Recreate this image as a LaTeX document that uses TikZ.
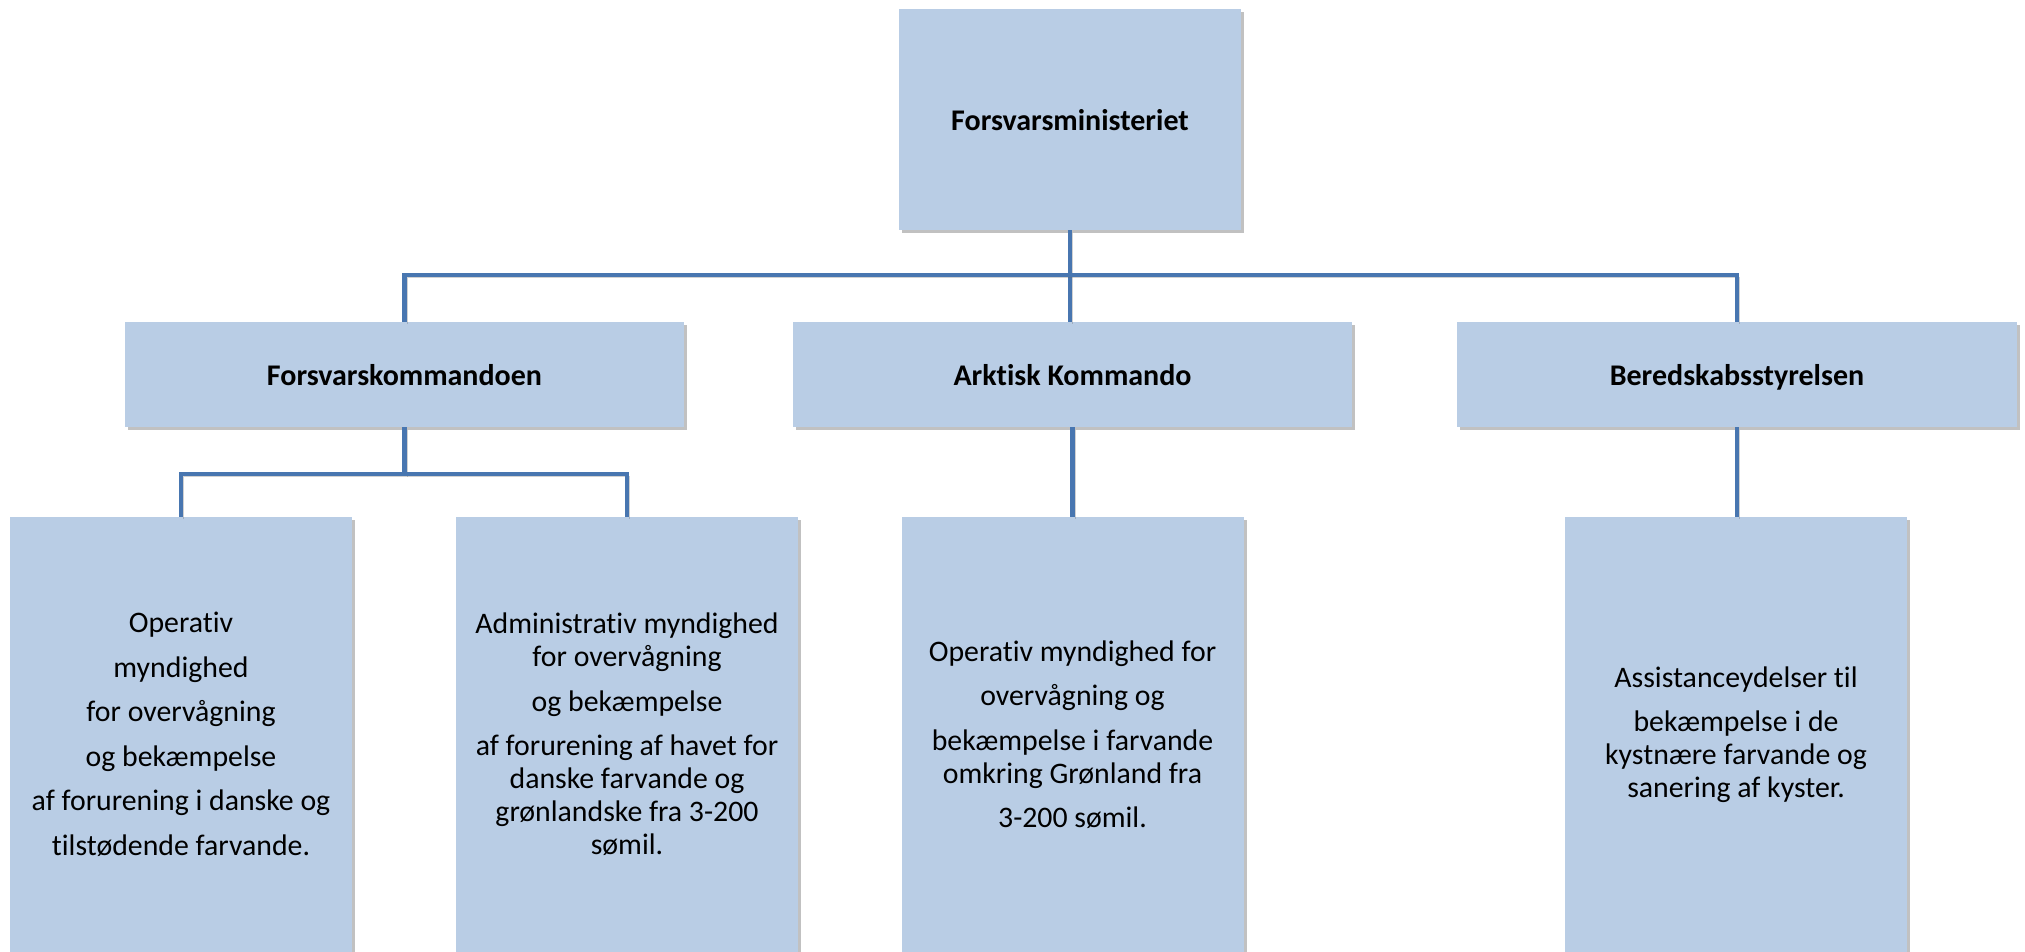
\documentclass[tikz,border=0pt]{standalone}
\usepackage{fontspec}
\setmainfont{Carlito}[Ligatures=CommonOff]
\usepackage{xcolor}
\usetikzlibrary{shapes,arrows,positioning,calc,shadows}

\definecolor{boxblue}{RGB}{185,205,229}
\definecolor{lineblue}{RGB}{72,118,176}

\begin{document}
\begin{tikzpicture}[x=0.5pt,y=-0.5pt,
    box/.style={fill=boxblue, inner sep=0pt, align=center,
        font=\fontsize{14.9}{16.5}\selectfont,
        drop shadow={shadow xshift=1.5pt,shadow yshift=-1.5pt,fill=black!70,opacity=0.35}},
    head/.style={box, text depth=0pt, font=\fontsize{15}{16.5}\selectfont\bfseries},
    unit/.style={box, minimum width=171pt, minimum height=217.5pt},
    conn/.style={draw=lineblue, line width=2.2pt,
        preaction={draw=black!60, opacity=0.3, transform canvas={shift={(1.3pt,-1.3pt)}}}}]
    \useasboundingbox (0,0) rectangle (2025,952);

    % Ministry
    \node[head, minimum width=171pt, minimum height=110.5pt] (min) at (1070,119.5) {Forsvarsministeriet};

    % Commands
    \node[head, minimum width=279.5pt, minimum height=52.5pt] (fk) at (404.5,374.5) {Forsvarskommandoen};
    \node[head, minimum width=279.5pt, minimum height=52.5pt] (ak) at (1072.5,374.5) {Arktisk Kommando};
    \node[head, minimum width=280pt, minimum height=52.5pt] (bs) at (1737,374.5) {Beredskabsstyrelsen};

    % Tasks
    \node[unit] (op) at (181,734.5) {Operativ\\[5.75pt] myndighed\\[5.75pt] for overvågning\\[5.75pt]
        og bekæmpelse\\[5.75pt] af forurening i danske og\\[5.75pt] tilstødende farvande.};
    \node[unit] (adm) at (627,734.5) {Administrativ myndighed\\ for overvågning\\[5.75pt] og bekæmpelse\\[5.75pt]
        af forurening af havet for\\ danske farvande og\\ grønlandske fra 3-200\\ sømil.};
    \node[unit] (akop) at (1072.5,734.5) {Operativ myndighed for\\[5.75pt] overvågning og\\[5.75pt]
        bekæmpelse i farvande\\ omkring Grønland fra\\[5.75pt] 3-200 sømil.};
    \node[unit] (ass) at (1736,734.5) {Assistanceydelser til\\[5.75pt] bekæmpelse i de\\ kystnære farvande og\\ sanering af kyster.};

    % Connectors
    \coordinate (bus) at (1070,275);
    \coordinate (sub) at (404.5,474);
    \draw[conn] (min.south) -- (min.south |- ak.north);
    \draw[conn] (fk.north) -- (fk.north |- bus) -- (bs.north |- bus) -- (bs.north);
    \draw[conn] (fk.south) -- (sub);
    \draw[conn] (op.north) |- (sub) -| (adm.north);
    \draw[conn] (ak.south) -- (akop.north);
    \draw[conn] (bs.south) -- (bs.south |- ass.north);
\end{tikzpicture}
\end{document}
